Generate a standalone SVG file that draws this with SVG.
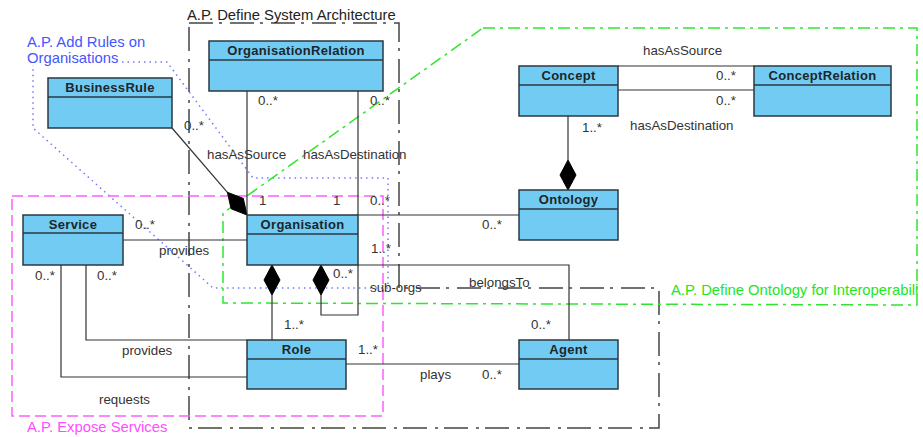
<svg xmlns="http://www.w3.org/2000/svg" width="923" height="437" viewBox="0 0 923 437">
  <style>
    .box { fill: #72cbf2; stroke: #2b3940; stroke-width: 1.5; }
    .sep { stroke: #2b3940; stroke-width: 1.5; }
    .name { font-family: "Liberation Sans", Arial, sans-serif; font-size: 13px; font-weight: bold; letter-spacing: 0.3px; fill: #1c262b; text-anchor: middle; }
    .lbl { font-family: "Liberation Sans", Arial, sans-serif; font-size: 13.3px; fill: #333; }
    .conn { fill: none; stroke: #333; stroke-width: 1.2; }
    .dia { fill: #000; stroke: #000; stroke-width: 1; }
    .frame-sys { fill: none; stroke: #444; stroke-width: 1.5; stroke-dasharray: 24 6 3 8; }
    .frame-rules { fill: none; stroke: #7379ff; stroke-width: 1.5; stroke-dasharray: 1.5 4; }
    .frame-svc { fill: none; stroke: #ff5cff; stroke-width: 1.5; stroke-dasharray: 11 5; }
    .frame-ont { fill: none; stroke: #2ee62e; stroke-width: 1.5; stroke-dasharray: 12 5 3 5; }
    .title { font-family: "Liberation Sans", Arial, sans-serif; font-size: 14.8px; }
  </style>

  <!-- activity-pattern frames -->
  <g id="frames">
    <path class="frame-sys" d="M189,23 L399,23 L399,288 L659,288 L659,428 L189,428 Z"/>
    <path class="frame-rules" d="M122,62 L167,62 L253,178 L388,178 L388,288 L213,288 L33,128 L33,65"/>
    <rect class="frame-svc" x="12" y="196" width="371" height="220"/>
    <path class="frame-ont" d="M483,28 L917,28 L917,305 L223,303 L223,213 Z"/>
    <text class="title" x="187" y="20" fill="#222">A.P. Define System Architecture</text>
    <text class="title" x="27" y="47" fill="#4455ff">A.P. Add Rules on</text>
    <text class="title" x="27" y="63" fill="#4455ff">Organisations</text>
    <text class="title" x="27" y="432" fill="#ff4dff">A.P. Expose Services</text>
    <text class="title" x="671" y="295" fill="#22e622">A.P. Define Ontology for Interoperabili</text>
  </g>

  <!-- associations -->
  <g id="connectors">
    <!-- BusinessRule to Organisation (composition) -->
    <line class="conn" x1="172" y1="128" x2="227.4" y2="192.3"/>
    <polygon class="dia" points="247,215 243.3,198.4 227.4,192.3 231.1,208.8"/>
    <!-- OrganisationRelation to Organisation -->
    <line class="conn" x1="247" y1="91" x2="247" y2="215"/>
    <line class="conn" x1="358" y1="91" x2="358" y2="215"/>
    <!-- Organisation to Ontology -->
    <line class="conn" x1="358" y1="215" x2="519" y2="215"/>
    <!-- Concept to Ontology (composition) -->
    <line class="conn" x1="568" y1="116" x2="568" y2="160"/>
    <polygon class="dia" points="568,190 576,175 568,160 560,175"/>
    <!-- Concept to ConceptRelation -->
    <line class="conn" x1="618" y1="66" x2="754" y2="66"/>
    <line class="conn" x1="618" y1="90" x2="754" y2="90"/>
    <!-- Service to Organisation -->
    <line class="conn" x1="123" y1="240" x2="247" y2="240"/>
    <!-- Service to Role -->
    <polyline class="conn" points="86,265 86,340 247,340"/>
    <polyline class="conn" points="61,265 61,377 247,377"/>
    <!-- Organisation to Role (composition) -->
    <line class="conn" x1="272" y1="295" x2="272" y2="340"/>
    <polygon class="dia" points="272,265 280,280 272,295 264,280"/>
    <!-- sub-orgs self association -->
    <polyline class="conn" points="321,295 321,315 358,315 358,265"/>
    <polygon class="dia" points="321,265 329,280 321,295 313,280"/>
    <!-- Organisation to Agent -->
    <polyline class="conn" points="358,265 569,265 569,340"/>
    <!-- Role to Agent -->
    <line class="conn" x1="346" y1="364" x2="519" y2="364"/>

    <!-- role names and multiplicities -->
    <text class="lbl" x="184" y="130">0..*</text>
    <text class="lbl" x="258" y="105">0..*</text>
    <text class="lbl" x="370" y="105">0..*</text>
    <text class="lbl" x="207" y="159">hasAsSource</text>
    <text class="lbl" x="303" y="159">hasAsDestination</text>
    <text class="lbl" x="259" y="205">1</text>
    <text class="lbl" x="333" y="205">1</text>
    <text class="lbl" x="370" y="205">0..*</text>
    <text class="lbl" x="482" y="229">0..*</text>
    <text class="lbl" x="371" y="253">1..*</text>
    <text class="lbl" x="333" y="278">0..*</text>
    <text class="lbl" x="370" y="292">sub-orgs</text>
    <text class="lbl" x="469" y="287">belongsTo</text>
    <text class="lbl" x="531" y="329">0..*</text>
    <text class="lbl" x="284" y="329">1..*</text>
    <text class="lbl" x="358" y="354">1..*</text>
    <text class="lbl" x="420" y="379">plays</text>
    <text class="lbl" x="482" y="379">0..*</text>
    <text class="lbl" x="135" y="229">0..*</text>
    <text class="lbl" x="159" y="255">provides</text>
    <text class="lbl" x="35" y="280">0..*</text>
    <text class="lbl" x="97" y="280">0..*</text>
    <text class="lbl" x="122" y="355">provides</text>
    <text class="lbl" x="99" y="404">requests</text>
    <text class="lbl" x="643" y="55">hasAsSource</text>
    <text class="lbl" x="716" y="80">0..*</text>
    <text class="lbl" x="716" y="105">0..*</text>
    <text class="lbl" x="630" y="130">hasAsDestination</text>
    <text class="lbl" x="582" y="132">1..*</text>
  </g>

  <!-- classes -->
  <g id="OrganisationRelation">
    <rect class="box" x="209" y="41" width="174" height="50"/>
    <line class="sep" x1="209" y1="60" x2="383" y2="60"/>
    <text class="name" x="296" y="55">OrganisationRelation</text>
  </g>
  <g id="BusinessRule">
    <rect class="box" x="48" y="78" width="124" height="50"/>
    <line class="sep" x1="48" y1="97" x2="172" y2="97"/>
    <text class="name" x="110" y="92">BusinessRule</text>
  </g>
  <g id="Concept">
    <rect class="box" x="519" y="66" width="99" height="50"/>
    <line class="sep" x1="519" y1="85" x2="618" y2="85"/>
    <text class="name" x="568.5" y="80">Concept</text>
  </g>
  <g id="ConceptRelation">
    <rect class="box" x="754" y="66" width="137" height="50"/>
    <line class="sep" x1="754" y1="85" x2="891" y2="85"/>
    <text class="name" x="822.5" y="80">ConceptRelation</text>
  </g>
  <g id="Ontology">
    <rect class="box" x="519" y="190" width="99" height="50"/>
    <line class="sep" x1="519" y1="209" x2="618" y2="209"/>
    <text class="name" x="568.5" y="204">Ontology</text>
  </g>
  <g id="Service">
    <rect class="box" x="23" y="215" width="100" height="50"/>
    <line class="sep" x1="23" y1="233" x2="123" y2="233"/>
    <text class="name" x="73" y="229">Service</text>
  </g>
  <g id="Organisation">
    <rect class="box" x="247" y="215" width="111" height="50"/>
    <line class="sep" x1="247" y1="234" x2="358" y2="234"/>
    <text class="name" x="302.5" y="229">Organisation</text>
  </g>
  <g id="Role">
    <rect class="box" x="247" y="340" width="99" height="49"/>
    <line class="sep" x1="247" y1="359" x2="346" y2="359"/>
    <text class="name" x="296.5" y="354">Role</text>
  </g>
  <g id="Agent">
    <rect class="box" x="519" y="340" width="99" height="49"/>
    <line class="sep" x1="519" y1="359" x2="618" y2="359"/>
    <text class="name" x="568.5" y="354">Agent</text>
  </g>
</svg>
